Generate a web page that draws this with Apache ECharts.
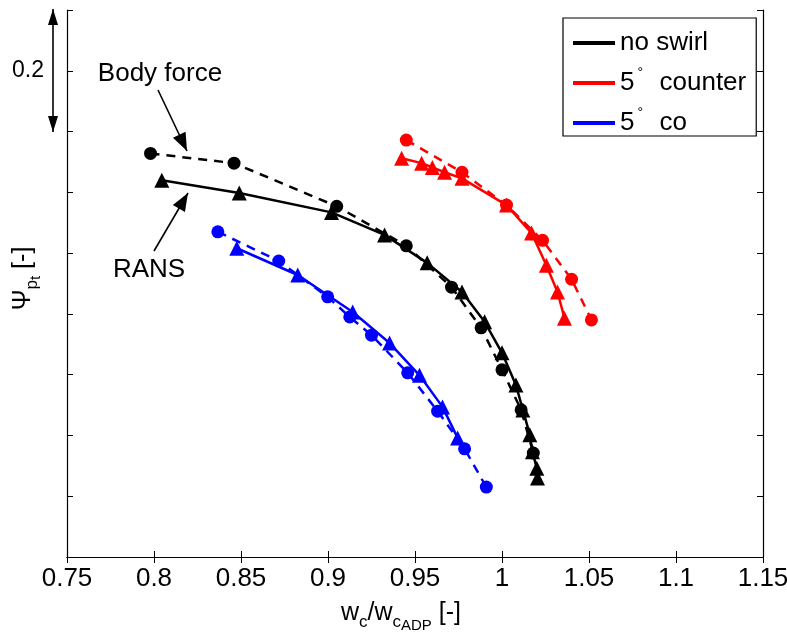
<!DOCTYPE html>
<html>
<head>
<meta charset="utf-8">
<script src="https://cdn.jsdelivr.net/npm/echarts@6/dist/echarts.min.js"></script>
<style>
  html, body { margin: 0; padding: 0; background: #fff; }
  #chart { width: 787px; height: 632px; }
</style>
</head>
<body>
<div id="chart"></div>
<script>
// x axis ticks (w_c / w_cADP)
const xTicks = [0.75, 0.8, 0.85, 0.9, 0.95, 1, 1.05, 1.1, 1.15];

// no swirl - body force (dots, dashed)
const noSwirlBfX = [0.798, 0.846, 0.905, 0.945, 0.971, 0.988, 1.000, 1.011, 1.018];
const noSwirlBfY = [0.664, 0.648, 0.577, 0.512, 0.444, 0.377, 0.308, 0.242, 0.171];
// no swirl - RANS (triangles, solid)
const noSwirlRansX = [0.8045, 0.849, 0.902, 0.9325, 0.957, 0.977, 0.990, 1.000, 1.008, 1.012, 1.016, 1.0175, 1.020, 1.0204];
const noSwirlRansY = [0.620, 0.599, 0.567, 0.530, 0.484, 0.436, 0.387, 0.336, 0.283, 0.242, 0.201, 0.173, 0.146, 0.130];

// 5 deg counter swirl
const counterBfX = [0.945, 0.977, 1.0026, 1.0233, 1.040, 1.0514];
const counterBfY = [0.686, 0.633, 0.579, 0.521, 0.457, 0.390];
const counterRansX = [0.9423, 0.9538, 0.960, 0.967, 0.977, 1.0026, 1.017, 1.0255, 1.0319, 1.0359];
const counterRansY = [0.656, 0.648, 0.641, 0.633, 0.623, 0.579, 0.533, 0.480, 0.436, 0.393];

// 5 deg co swirl
const coBfX = [0.8367, 0.8717, 0.8998, 0.9125, 0.925, 0.9458, 0.963, 0.9785, 0.991];
const coBfY = [0.535, 0.487, 0.428, 0.395, 0.365, 0.303, 0.240, 0.178, 0.115];
const coRansX = [0.8476, 0.8826, 0.9142, 0.9354, 0.9526, 0.9658, 0.9745];
const coRansY = [0.508, 0.464, 0.403, 0.352, 0.299, 0.247, 0.196];

const legendNames = ["no swirl", "5° counter", "5° co"];
const FONT = "Liberation Sans, Arial, sans-serif";

function zip(xs, ys) {
  return xs.map((x, i) => [x, ys[i]]);
}

function bfSeries(name, color, xs, ys) {
  return {
    name: name,
    type: "line",
    data: zip(xs, ys),
    symbol: "circle",
    symbolSize: 13,
    itemStyle: { color: color },
    lineStyle: { color: color, width: 2.5, type: [9, 7] },
    animation: false,
    z: 3,
  };
}

function ransSeries(name, color, xs, ys) {
  return {
    name: name,
    type: "line",
    data: zip(xs, ys),
    symbol: "triangle",
    symbolSize: 15,
    itemStyle: { color: color },
    lineStyle: { color: color, width: 2.5 },
    animation: false,
    z: 4,
  };
}

// arrow: shaft + filled head at the end point
function arrow(x0, y0, x1, y1, both, L, W) {
  const els = [];
  const head = (ax, ay, bx, by) => {
    const dx = bx - ax, dy = by - ay;
    const d = Math.sqrt(dx * dx + dy * dy);
    const ux = dx / d, uy = dy / d;
    const cx = bx - ux * L, cy = by - uy * L;
    return {
      type: "polygon",
      shape: { points: [[bx, by], [cx - uy * W, cy + ux * W], [cx + uy * W, cy - ux * W]] },
      style: { fill: "#000" },
    };
  };
  els.push({
    type: "line",
    shape: { x1: x0, y1: y0, x2: x1, y2: y1 },
    style: { stroke: "#000", lineWidth: 1.6 },
  });
  els.push(head(x0, y0, x1, y1));
  if (both) els.push(head(x1, y1, x0, y0));
  return els;
}

const tickStyle = { show: true, inside: true, length: 6, lineStyle: { color: "#000", width: 1 } };
const lineStyle = { show: true, lineStyle: { color: "#000", width: 1.2 } };

const richName = (mainSize) => ({
  m: { fontSize: mainSize, lineHeight: mainSize + 2, verticalAlign: "top", fontFamily: FONT, color: "#000" },
  s: { fontSize: 17, lineHeight: 18, padding: [13, 0, 0, 0], verticalAlign: "top", fontFamily: FONT, color: "#000" },
  ss: { fontSize: 15, lineHeight: 16, padding: [17, 0, 0, 0], verticalAlign: "top", fontFamily: FONT, color: "#000" },
});

const option = {
  backgroundColor: "#fff",
  animation: false,
  grid: { left: 67, right: 24, top: 10, bottom: 75, outerBoundsMode: "none", containLabel: false },
  xAxis: [
    {
      type: "value",
      min: 0.75,
      max: 1.15,
      interval: 0.05,
      axisLine: lineStyle,
      axisTick: tickStyle,
      splitLine: { show: false },
      axisLabel: {
        color: "#000",
        fontSize: 26,
        fontFamily: FONT,
        margin: 9,
        formatter: (v) => String(parseFloat(v.toFixed(2))),
      },
      name: "{m|w}{s|c}{m|/w}{s|c}{ss|ADP}{m| [-]}",
      nameLocation: "middle",
      nameGap: 44,
      nameTextStyle: { color: "#000", fontFamily: FONT, padding: [0, 28, 0, 0], rich: richName(25) },
    },
    {
      type: "value",
      position: "top",
      min: 0.75,
      max: 1.15,
      interval: 0.05,
      axisLine: lineStyle,
      axisTick: tickStyle,
      axisLabel: { show: false },
      splitLine: { show: false },
    },
  ],
  yAxis: [
    {
      type: "value",
      min: 0,
      max: 0.9,
      interval: 0.1,
      axisLine: lineStyle,
      axisTick: tickStyle,
      axisLabel: { show: false },
      splitLine: { show: false },
      name: "{m|Ψ}{s|p}{ss|t}{m| [-]}",
      nameLocation: "middle",
      nameRotate: 90,
      nameGap: 29,
      nameTextStyle: { color: "#000", fontFamily: FONT, padding: [0, 0, 0, 10], rich: richName(25) },
    },
    {
      type: "value",
      position: "right",
      min: 0,
      max: 0.9,
      interval: 0.1,
      axisLine: lineStyle,
      axisTick: tickStyle,
      axisLabel: { show: false },
      splitLine: { show: false },
    },
  ],
  legend: {
    data: legendNames,
    orient: "vertical",
    left: 563,
    top: 18,
    padding: [12, 10, 0, 10],
    itemGap: 10,
    itemWidth: 42,
    itemHeight: 4,
    icon: "rect",
    backgroundColor: "#fff",
    borderColor: "#000",
    borderWidth: 1.2,
    borderRadius: 0,
    selectedMode: false,
    formatter: (name) => name.replace("°", "{d|°} "),
    textStyle: {
      color: "#000",
      fontSize: 26,
      fontFamily: FONT,
      rich: {
        d: { fontSize: 14, padding: [0, 2, 20, 3], fontFamily: FONT, color: "#000" },
      },
    },
  },
  series: [
    bfSeries("no swirl BF", "#000", noSwirlBfX, noSwirlBfY),
    ransSeries(legendNames[0], "#000", noSwirlRansX, noSwirlRansY),
    bfSeries("counter BF", "#ff0000", counterBfX, counterBfY),
    ransSeries(legendNames[1], "#ff0000", counterRansX, counterRansY),
    bfSeries("co BF", "#0000ff", coBfX, coBfY),
    ransSeries(legendNames[2], "#0000ff", coRansX, coRansY),
  ],
  graphic: [
    ...arrow(53, 9, 53, 132, true, 16, 5),
    { type: "text", x: 28, y: 71, style: { text: "0.2", fill: "#000", fontSize: 23, fontFamily: FONT, align: "center", verticalAlign: "middle" } },
    { type: "text", x: 160, y: 74, style: { text: "Body force", fill: "#000", fontSize: 26, fontFamily: FONT, align: "center", verticalAlign: "middle" } },
    ...arrow(158, 90, 187, 151, false, 18, 7),
    { type: "text", x: 149, y: 270, style: { text: "RANS", fill: "#000", fontSize: 26, fontFamily: FONT, align: "center", verticalAlign: "middle" } },
    ...arrow(154, 251, 188, 193, false, 18, 7),
  ],
};

const myChart = echarts.init(document.getElementById("chart"), null, { renderer: "canvas" });
myChart.setOption(option);
</script>
</body>
</html>
